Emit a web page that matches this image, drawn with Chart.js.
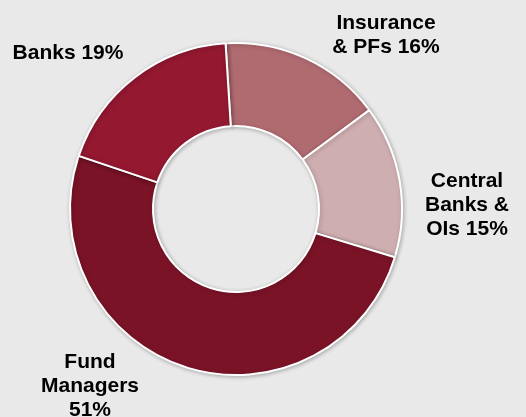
<!DOCTYPE html>
<html>
<head>
<meta charset="utf-8">
<script src="https://cdn.jsdelivr.net/npm/chart.js@4"></script>
<style>
  body { margin: 0; background: #e9e9e9; }
  #chart { display: block; }
</style>
</head>
<body>
<canvas id="chart" width="526" height="417"></canvas>
<script>
// data (clockwise from the top)
const categories = ['Insurance & PFs', 'Central Banks & OIs', 'Fund Managers', 'Banks'];
const shares = [16, 15, 51, 19];
const labelLines = [
  ['Insurance', '& PFs 16%'],
  ['Central', 'Banks &', 'OIs 15%'],
  ['Fund', 'Managers', '51%'],
  ['Banks 19%']
];
const colours = ['#b06b71', '#cfaeb1', '#7b1327', '#931830'];

// where each label block sits (centre x, baseline of first line)
const labelSpots = [
  { x: 386, y: 29 },
  { x: 467, y: 187 },
  { x: 90, y: 368 },
  { x: 68, y: 59 }
];

const outsideLabels = {
  id: 'outsideLabels',
  afterDraw(chart) {
    const ctx = chart.ctx;
    ctx.save();
    ctx.font = 'bold 21px "Liberation Sans", Arial, sans-serif';
    ctx.fillStyle = '#000';
    ctx.textAlign = 'center';
    ctx.textBaseline = 'alphabetic';
    labelLines.forEach((lines, i) => {
      const spot = labelSpots[i];
      lines.forEach((line, j) => {
        ctx.fillText(line, spot.x, spot.y + j * 24);
      });
    });
    ctx.restore();
  }
};

const ringShadow = {
  id: 'ringShadow',
  beforeDatasetsDraw(chart) {
    const ctx = chart.ctx;
    ctx.save();
    ctx.shadowColor = 'rgba(0,0,0,0.25)';
    ctx.shadowBlur = 4;
    ctx.shadowOffsetX = 1;
    ctx.shadowOffsetY = 1;
  },
  afterDatasetsDraw(chart) {
    chart.ctx.restore();
  }
};

const canvas = document.querySelector('#chart');

new Chart(canvas, {
  type: 'doughnut',
  data: {
    labels: categories,
    datasets: [{
      data: shares,
      backgroundColor: colours,
      borderColor: '#ffffff',
      borderWidth: 2
    }]
  },
  options: {
    responsive: false,
    animation: false,
    rotation: -3.6,
    cutout: '50%',
    layout: {
      padding: { left: 69, right: 123, top: 42, bottom: 41 }
    },
    plugins: {
      legend: { display: false },
      tooltip: { enabled: false }
    }
  },
  plugins: [ringShadow, outsideLabels]
});
</script>
</body>
</html>
